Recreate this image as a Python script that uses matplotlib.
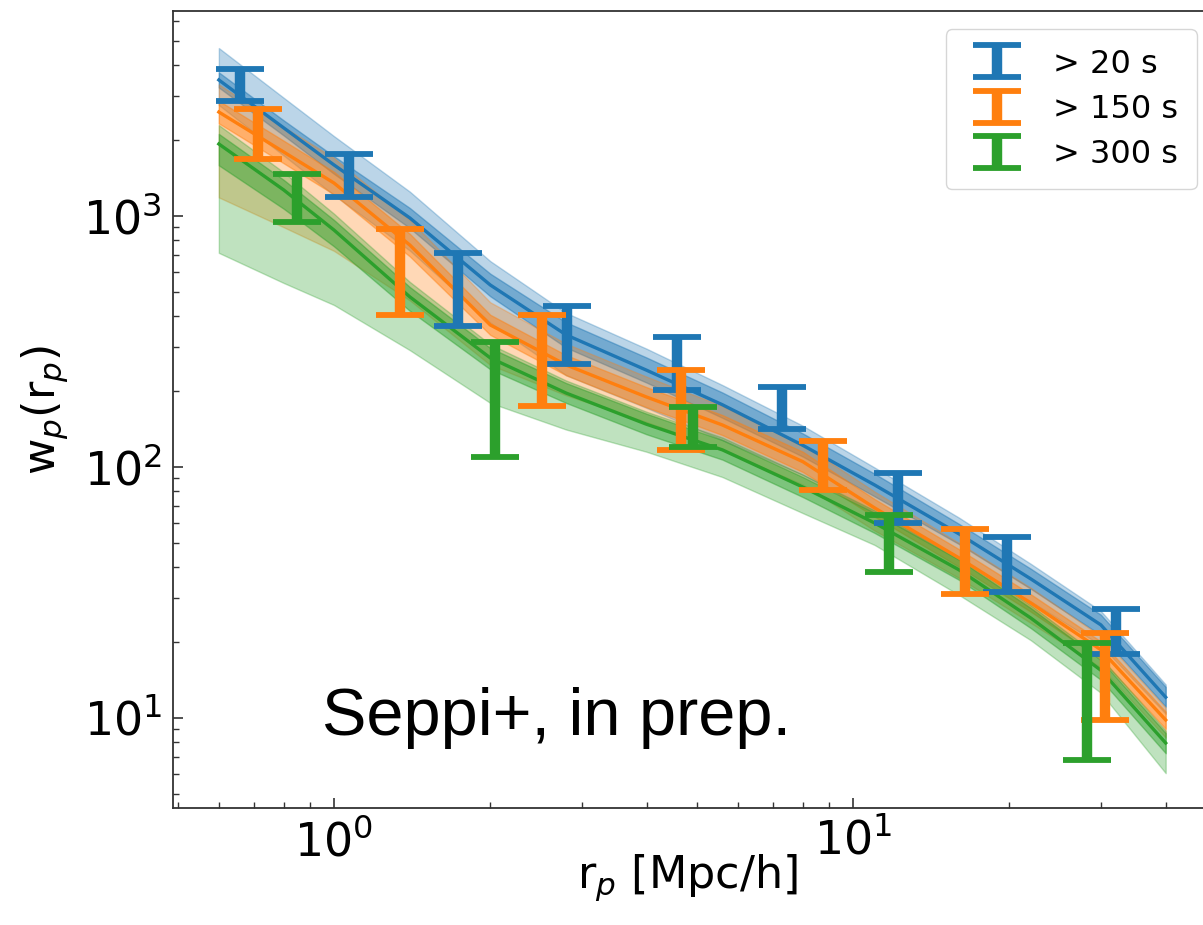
import matplotlib
matplotlib.use('Agg')
import matplotlib.pyplot as plt
import numpy as np

plt.rcParams['font.family'] = ['DejaVu Sans']
plt.rcParams['mathtext.fontset'] = 'dejavusans'

# model curves (median + 1 inner and 1 outer band), read at these radii
r_model = [0.6, 0.8, 1.0, 1.4, 2.0, 2.8, 4.0, 5.6, 8.0, 11.0, 16.0, 22.0, 30.0, 40.0]

blue_med = [3483, 2244, 1597, 982, 531, 336, 243, 177, 122, 84.8, 54.1, 35.8, 23.5, 12.1]
blue_in_hi = [3733, 2404, 1730, 1076, 589, 377, 273, 198, 136, 94.0, 59.3, 39.3, 25.8, 13.3]
blue_in_lo = [3251, 2094, 1472, 895, 479, 299, 217, 157, 110, 76.4, 49.3, 32.7, 21.4, 11.1]
blue_out_hi = [4667, 2958, 2080, 1250, 661, 411, 296, 212, 146, 99.5, 62.8, 41.1, 26.7, 13.6]
blue_out_lo = [2767, 1742, 1211, 728, 376, 232, 172, 128, 92.9, 65.8, 43.0, 29.1, 19.5, 10.4]

orange_med = [2595, 1799, 1353, 766, 368, 255, 190, 147, 105, 68.7, 43.4, 28.7, 18.7, 9.82]
orange_in_hi = [2877, 1995, 1500, 849, 404, 279, 208, 161, 115, 74.5, 47.0, 31.1, 20.2, 10.6]
orange_in_lo = [2339, 1622, 1219, 690, 336, 232, 173, 134, 95.5, 63.4, 40.0, 26.5, 17.2, 9.06]
orange_out_hi = [3342, 2265, 1702, 964, 453, 310, 229, 175, 123, 79.8, 49.8, 33.0, 21.2, 11.0]
orange_out_lo = [1186, 902, 726, 461, 255, 193, 151, 117, 85.1, 55.8, 36.1, 23.9, 15.9, 8.36]

green_med = [1936, 1270, 879, 476, 272, 197, 148, 117, 83.2, 59.8, 38.9, 25.0, 15.5, 7.95]
green_in_hi = [2123, 1393, 964, 521, 298, 216, 163, 128, 91.2, 65.6, 42.7, 27.4, 17.0, 8.71]
green_in_lo = [1592, 1069, 757, 419, 245, 180, 135, 107, 75.9, 54.6, 35.5, 22.8, 14.2, 7.24]
green_out_hi = [2301, 1493, 1021, 546, 308, 221, 166, 131, 93.3, 67.1, 43.7, 28.1, 17.4, 8.91]
green_out_lo = [713, 541, 442, 292, 180, 141, 115, 91.2, 65.5, 48.9, 30.9, 20.4, 12.6, 6.03]

# measurements (error bars: lower / upper ends)
blue_r = [0.659, 1.07, 1.73, 2.81, 4.58, 7.3, 12.2, 19.8, 32.1]
blue_lo = [2871, 1191, 365, 257, 203, 142, 59.9, 31.8, 18.0]
blue_hi = [3855, 1766, 713, 438, 330, 208, 94.6, 52.6, 27.2]

orange_r = [0.714, 1.34, 2.52, 4.66, 8.75, 16.4, 30.5]
orange_lo = [1687, 404, 175, 117, 81, 31.2, 9.8]
orange_hi = [2667, 888, 404, 243, 127, 56.6, 21.8]

green_r = [0.849, 2.04, 4.92, 11.7, 28.2]
green_lo = [946, 110, 120, 38.2, 6.8]
green_hi = [1469, 315, 173, 64.4, 19.9]

labels = ['> 20 s', '> 150 s', '> 300 s']
colors = ['#1f77b4', '#ff7f0e', '#2ca02c']

models = [
    (blue_med, blue_in_lo, blue_in_hi, blue_out_lo, blue_out_hi),
    (orange_med, orange_in_lo, orange_in_hi, orange_out_lo, orange_out_hi),
    (green_med, green_in_lo, green_in_hi, green_out_lo, green_out_hi),
]
points = [
    (blue_r, blue_lo, blue_hi),
    (orange_r, orange_lo, orange_hi),
    (green_r, green_lo, green_hi),
]

fig = plt.figure(figsize=(12.03, 9.25), dpi=100)
ax = fig.add_axes([0.1438, 0.1265, 0.8562, 0.8616])

for (med, ilo, ihi, olo, ohi), c in zip(models, colors):
    ax.fill_between(r_model, olo, ohi, color=c, alpha=0.3, lw=1)
    ax.fill_between(r_model, ilo, ihi, color=c, alpha=0.45, lw=1)
    ax.plot(r_model, med, color=c, lw=2.4)

handles = []
for (r, lo, hi), c, lab in zip(points, colors, labels):
    lo = np.array(lo)
    hi = np.array(hi)
    h = ax.errorbar(r, lo, yerr=[np.zeros_like(lo), hi - lo], fmt='none',
                    ecolor=c, elinewidth=7.5, capsize=17, capthick=4.2,
                    label=lab, zorder=4)
    handles.append(h)

ax.set_xscale('log')
ax.set_yscale('log')
ax.set_xlim(0.4896, 47.2)
ax.set_ylim(4.38, 6556)

ax.tick_params(which='both', direction='in', top=False, right=False, colors='#333333',
               labelcolor='black')
ax.tick_params(which='major', length=7, width=1.2, labelsize=33, pad=8)
ax.tick_params(which='minor', length=4, width=1.0)
for s in ax.spines.values():
    s.set_linewidth(1.3)
    s.set_color('#333333')
ax.spines['right'].set_visible(False)

ax.set_xlabel(r'r$_p$ [Mpc/h]', fontsize=32)
ax.set_ylabel(r'w$_p$(r$_p$)', fontsize=32)
ax.xaxis.set_label_coords(0.5, -0.055)
ax.xaxis.label.set_va('top')
ax.yaxis.set_label_coords(-0.10, 0.5)

ax.text(0.145, 0.092, 'Seppi+, in prep.', transform=ax.transAxes,
        fontsize=48, family='Liberation Sans', ha='left', va='baseline')

ax.legend(handles=handles, labels=labels, loc='upper right',
          bbox_to_anchor=(0.994, 0.977), borderaxespad=0, fontsize=23,
          borderpad=0.6, handletextpad=0.75, labelspacing=0.45)

fig.savefig('out.png', dpi=100)
